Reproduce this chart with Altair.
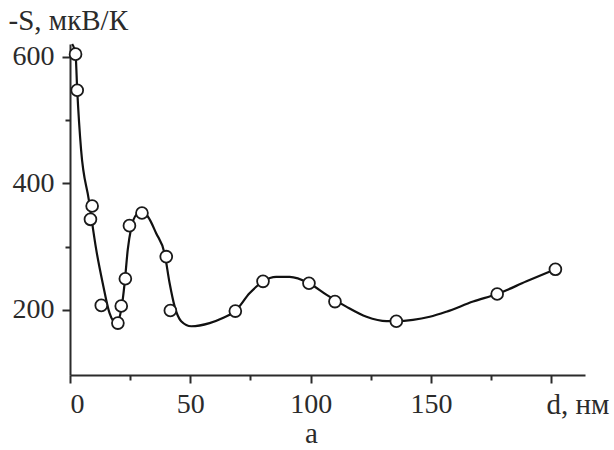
import altair as alt
import pandas as pd

# measured points (open circles)
point_d = [2.3, 3.0, 8.5, 9.2, 13.0, 19.9, 21.3, 23.0, 24.7, 29.9, 40.0, 41.7,
           68.7, 80.2, 99.3, 110.1, 135.6, 177.5, 201.7]
point_s = [604, 547, 343, 364, 207, 179, 206, 249, 333, 353, 284, 199,
           198, 245, 242, 213, 182, 225, 264]

# smooth guide curve
curve_d = [0.9, 2.3, 3.0, 4.6, 7.8, 10.9, 13.6, 16.4, 19.2, 21.3, 22.7, 24.0,
           25.4, 27.5, 29.9, 32.4, 35.8, 39.3, 41.4, 43.5, 46.2, 50.4, 58.0,
           63.5, 68.7, 74.6, 80.2, 85.7, 91.3, 99.3, 106.5, 114.8, 123.2,
           131.5, 135.6, 142.5, 149.5, 156.4, 167.5, 177.5, 189.7, 201.7]
curve_s = [620, 604, 547, 453, 374, 295, 242, 195, 179, 200, 242, 295,
           329, 350, 355, 347, 321, 289, 242, 205, 182, 174, 179,
           187, 198, 226, 245, 252, 252, 242, 224, 205, 189,
           182, 182, 184, 189, 197, 213, 225, 245, 264]

x_major = [0, 50, 100, 150, 200]
x_minor = [25, 75, 125, 175]
y_major = [200, 400, 600]
y_minor = [300, 500]

FONT = "'Liberation Serif', 'Times New Roman', Times, serif"
INK = "#2b2b2b"
LFS = 28
TFS = 29

pts = pd.DataFrame({"d": point_d, "S": point_s})
crv = pd.DataFrame({"d": curve_d, "S": curve_s})

xscale = alt.Scale(domain=[0, 214], nice=False, zero=False)
yscale = alt.Scale(domain=[97, 620], nice=False, zero=False)

common = dict(grid=False, tickColor=INK, tickWidth=2, domainColor=INK, domainWidth=2,
              labelFont=FONT, labelFontSize=LFS, labelColor=INK,
              titleFont=FONT, titleFontSize=TFS, titleFontWeight="normal", titleColor=INK)

x_axis_major = alt.Axis(values=x_major, orient="bottom", tickSize=8, labelPadding=7,
                        labelExpr="datum.value == 200 ? '' : datum.label",
                        title="а", titleX=241, titleY=67, titleAlign="center",
                        titleBaseline="alphabetic", **common)
x_axis_minor = alt.Axis(values=x_minor, orient="bottom", tickSize=5, labels=False,
                        domain=False, title="d, нм", titleX=476, titleY=38,
                        titleAlign="left", titleBaseline="alphabetic", **common)
y_axis_major = alt.Axis(values=y_major, orient="left", tickSize=8, labelPadding=8,
                        title="-S, мкВ/К", titleAngle=0, titleX=-62, titleY=-15,
                        titleAlign="left", titleBaseline="alphabetic", **common)
y_axis_minor = alt.Axis(values=y_minor, orient="left", tickSize=5, labels=False,
                        domain=False, title="", **common)

line = alt.Chart(crv).mark_line(interpolate="monotone", color="#111111", strokeWidth=2.2).encode(
    x=alt.X("d:Q", scale=xscale, axis=x_axis_major),
    y=alt.Y("S:Q", scale=yscale, axis=y_axis_major),
)

points = alt.Chart(pts).mark_point(shape="circle", size=140, filled=True, fill="white",
                                   fillOpacity=1, opacity=1, stroke="#1a1a1a",
                                   strokeWidth=1.8).encode(
    x=alt.X("d:Q", scale=xscale, axis=x_axis_minor),
    y=alt.Y("S:Q", scale=yscale, axis=y_axis_minor),
)

chart = alt.layer(line, points).resolve_axis(x="independent", y="independent").properties(
    width=515, height=331,
    autosize=alt.AutoSizeParams(type="none"),
    padding={"left": 70, "top": 44, "right": 29, "bottom": 75},
    background="white",
).configure_view(stroke=None)

chart.save("out.html", embed_options={"renderer": "svg", "actions": False})
